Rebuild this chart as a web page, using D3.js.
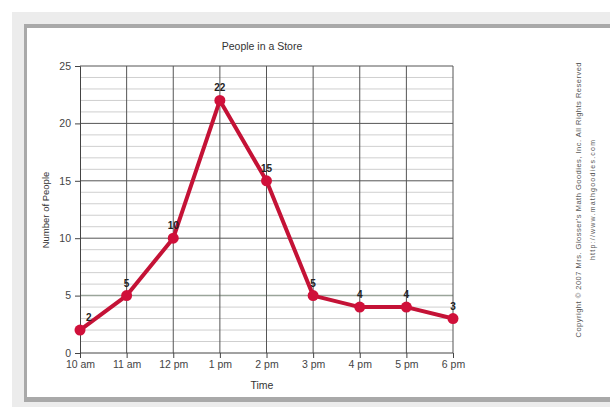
<!DOCTYPE html>
<html><head><meta charset="utf-8">
<script src="https://cdn.jsdelivr.net/npm/d3@7"></script>
<style>body{margin:0;background:#fff}svg{display:block}</style>
</head><body>
<svg id="c" width="610" height="407"></svg>
<script>
const categories = ["10 am","11 am","12 pm","1 pm","2 pm","3 pm","4 pm","5 pm","6 pm"];
const values = [2,5,10,22,15,5,4,4,3];
const yTicks = [0,5,10,15,20,25];
const title = "People in a Store";
const xTitle = "Time";
const yTitle = "Number of People";
const copyright1 = "Copyright © 2007 Mrs. Glosser's Math Goodies, Inc. All Rights Reserved";
const copyright2 = "http://www.mathgoodies.com";

const svg = d3.select("#c");
// frame
svg.append("rect").attr("x",12).attr("y",12).attr("width",598).attr("height",395).attr("fill","#ececec");
svg.append("rect").attr("x",24).attr("y",24).attr("width",586).attr("height",378).attr("fill","#a9a9a9");
svg.append("rect").attr("x",27).attr("y",28).attr("width",583).attr("height",369).attr("fill","#fff");

const x = d3.scalePoint().domain(categories).range([80,453]);
const y = d3.scaleLinear().domain([0,25]).range([353,66]);

const g = svg.append("g");
// minor horizontal grid
g.selectAll("line.minor").data(d3.range(1,25).filter(v=>v%5!==0)).join("line")
  .attr("x1",80).attr("x2",453).attr("y1",d=>y(d)).attr("y2",d=>y(d))
  .attr("stroke","#cfcfcf").attr("stroke-width",1);
// major horizontal grid
g.selectAll("line.major").data(yTicks.filter(v=>v>0)).join("line")
  .attr("x1",80).attr("x2",453).attr("y1",d=>y(d)).attr("y2",d=>y(d))
  .attr("stroke",d=>d===5?"#9aa59a":"#555").attr("stroke-width",d=>d===5?1.5:1);
// vertical grid
g.selectAll("line.v").data(categories.slice(1)).join("line")
  .attr("x1",d=>x(d)).attr("x2",d=>x(d)).attr("y1",66).attr("y2",353)
  .attr("stroke","#555").attr("stroke-width",1);

// axes
const ya = svg.append("g").attr("transform","translate(80,0)")
  .call(d3.axisLeft(y).tickValues(yTicks).tickSize(5).tickPadding(4));
const xa = svg.append("g").attr("transform","translate(0,353)")
  .call(d3.axisBottom(x).tickSize(5).tickPadding(3));
[ya,xa].forEach(a=>{
  a.select(".domain").attr("stroke","#444");
  a.selectAll(".tick line").attr("stroke","#444");
  a.selectAll("text").attr("fill","#444").style("font-family","Liberation Sans, Arial, sans-serif").style("font-size","10.5px");
});
xa.select(".domain").attr("d","M80,0H453");

// line
svg.append("path").datum(values)
  .attr("d",d3.line().x((d,i)=>x(categories[i])).y(d=>y(d)))
  .attr("fill","none").attr("stroke","#c41236").attr("stroke-width",4).attr("stroke-linejoin","round");
svg.selectAll("circle.pt").data(values).join("circle")
  .attr("cx",(d,i)=>x(categories[i])).attr("cy",d=>y(d)).attr("r",5.5).attr("fill","#d0103a");
svg.selectAll("text.lbl").data(values).join("text")
  .attr("x",(d,i)=>x(categories[i])+ (i===0?6:0)).attr("y",d=>y(d)-9)
  .attr("text-anchor",(d,i)=>i===0?"start":"middle")
  .attr("font-family","Liberation Sans, Arial, sans-serif").attr("font-weight","bold").attr("font-size","10px")
  .attr("fill","#222").text(d=>d);

// titles
const ff = "Liberation Sans, Arial, sans-serif";
svg.append("text").attr("x",262).attr("y",50).attr("text-anchor","middle")
  .attr("font-family",ff).attr("font-size","10.5px").attr("fill","#333").text(title);
svg.append("text").attr("x",262).attr("y",389).attr("text-anchor","middle")
  .attr("font-family",ff).attr("font-size","10.5px").attr("fill","#333").text(xTitle);
svg.append("text").attr("transform","translate(49,210) rotate(-90)").attr("text-anchor","middle")
  .attr("font-family",ff).attr("font-size","9.5px").attr("fill","#333").text(yTitle);
svg.append("text").attr("transform","translate(581,200) rotate(-90)").attr("text-anchor","middle")
  .attr("font-family",ff).attr("font-size","7.5px").attr("fill","#555").attr("textLength",275).text(copyright1);
svg.append("text").attr("transform","translate(595,200) rotate(-90)").attr("text-anchor","middle")
  .attr("font-family",ff).attr("font-size","7px").attr("fill","#555").attr("textLength",120).text(copyright2);
</script>
</body></html>
